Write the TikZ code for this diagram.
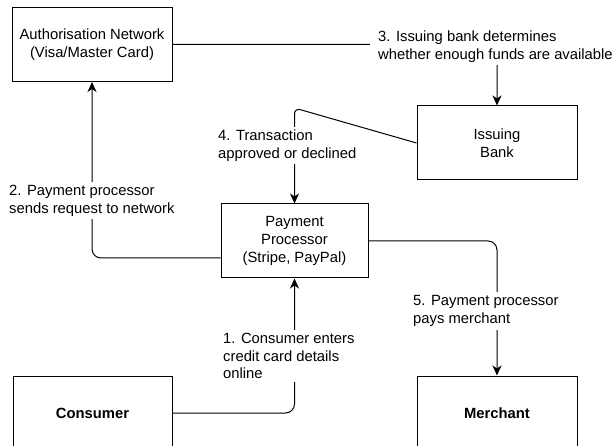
\documentclass[tikz,border=0pt]{standalone}
\usepackage{fontspec}
\setmainfont{Liberation Sans}
\usetikzlibrary{arrows.meta}
\begin{document}
\begin{tikzpicture}[x=1pt,y=-1pt,
  every node/.style={font=\fontsize{14.8}{17.8}\selectfont},
  box/.style={draw, line width=1pt, minimum width=160pt, minimum height=74pt,
    align=center, inner sep=0pt},
  flow/.style={draw, line width=1pt, rounded corners=9pt},
  tip/.style={-{Stealth[length=10pt,width=9pt,inset=3pt]}},
  note/.style={fill=white, align=left, inner xsep=3pt, inner ysep=3pt, anchor=west}]
  % canvas
  \useasboundingbox (0,0) rectangle (613,446);
  \fill[white] (0,0) rectangle (613,446);
  \clip (0,0) rectangle (613,446);

  % parties
  \node[box] (auth) at (92,44.5) {Authorisation Network\\(Visa/Master Card)};
  \node[box] (bank) at (497,143) {Issuing\\Bank};
  \node[box, minimum width=147pt] (pp) at (294.5,241) {Payment\\Processor\\(Stripe, PayPal)};
  \node[box, minimum width=159pt] (consumer) at (92.5,413) {\bfseries Consumer};
  \node[box] (merchant) at (497,413) {\bfseries Merchant};

  % flows
  \draw[flow, tip] (consumer.east) -| (pp.south);
  \draw[flow, tip] ([yshift=-17pt]pp.west) -| (auth.south);
  \draw[flow, tip] (auth.east) -| (bank.north);
  \coordinate (bend4) at (294.5,108);
  \draw[flow, tip, rounded corners=6pt] (bank.west) -- (bend4) -- (pp.north);
  \draw[flow, tip] (pp.east) -| (merchant.north);

  % step labels
  \node[note, inner xsep=8pt] (l3) at (370,46.5) {3. Issuing bank determines\\whether enough funds are available};
  \node[note] (l4) at (215,145.5) {4. Transaction\\approved or declined};
  \node[note] (l2) at (6,200.5) {2. Payment processor\\sends request to network};
  \node[note] (l5) at (410,311) {5. Payment processor\\pays merchant};
  \node[note] (l1) at (220,356) {1. Consumer enters\\credit card details\\online};
\end{tikzpicture}
\end{document}
